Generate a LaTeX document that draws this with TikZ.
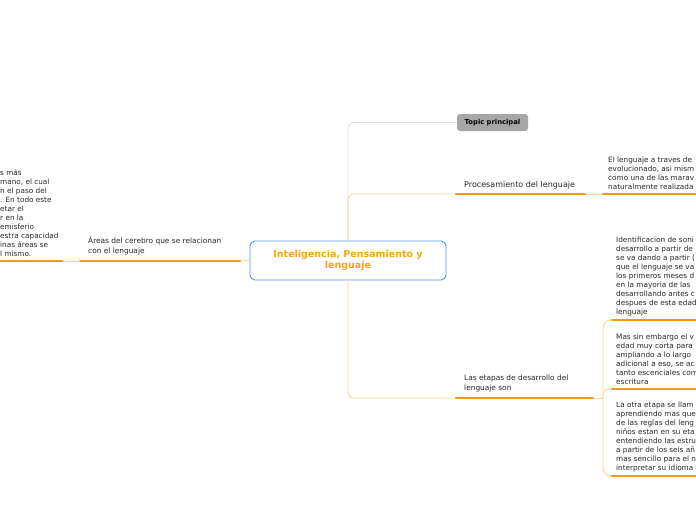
\documentclass[tikz,border=0pt]{standalone}
\usepackage{fontspec}
\setmainfont{DejaVu Sans}
\definecolor{orng}{RGB}{246,152,12}
\definecolor{lorng}{RGB}{252,214,150}
\definecolor{lgray}{RGB}{222,222,222}
\definecolor{bblue}{RGB}{80,148,232}
\definecolor{ttext}{RGB}{40,40,40}
\definecolor{ctext}{RGB}{248,166,10}
\tikzset{
  uline/.style={draw=orng,line width=2.6pt,line cap=round},
  thin/.style={draw=lorng,line width=0.9pt},
  grayline/.style={draw=lgray,line width=0.9pt},
  body/.style={inner sep=0pt,align=left,text=ttext,font=\fontsize{7.3}{9.0}\selectfont},
  label/.style={inner sep=0pt,align=left,text=ttext,font=\fontsize{7.4}{9.6}\selectfont},
}
\begin{document}
\begin{tikzpicture}[x=1pt,y=-1pt]
\useasboundingbox (0,0) rectangle (696,520);
\clip (0,0) rectangle (696,520);
\fill[white] (0,0) rectangle (696,520);

% central node
\node[draw=bblue,line width=0.9pt,fill=white,rounded corners=5pt,minimum width=196pt,minimum height=39pt,
  align=center,text=ctext,font=\fontsize{9.5}{10.5}\selectfont\bfseries,inner sep=0pt] (center) at (348,260.5)
  {Inteligencia, Pensamiento y\\lenguaje};

% topic principal
\node[fill=black!35,rounded corners=3pt,minimum width=71pt,minimum height=17pt,inner sep=0pt,
  font=\fontsize{6.8}{8}\selectfont\bfseries,text=black] (topic) at (492.5,122.5) {Topic principal};

% connectors from center
\coordinate (ctop) at (348,241);
\coordinate (cbot) at (348,280);
\draw[grayline,rounded corners=6pt] (ctop) |- (topic.west);
\coordinate (procL) at (456,194);
\coordinate (procR) at (585,194);
\coordinate (etapL) at (456,398);
\coordinate (etapR) at (593,398);
\draw[thin,rounded corners=6pt] (ctop) |- (procL);
\draw[thin,rounded corners=6pt] (cbot) |- (etapL);

% Procesamiento branch
\draw[uline] (procL) -- (procR);
\node[inner sep=0pt,anchor=base west,text=ttext,font=\fontsize{8}{9}\selectfont] (proc) at (464,187) {Procesamiento del lenguaje};
\coordinate (p1L) at (603,194);
\coordinate (p1R) at (705,194);
\draw[thin] (procR) -- (p1L);
\draw[uline] (p1L) -- (p1R);
\node[body,anchor=south west] (p1) at (608,190) {El lenguaje a traves de\\evolucionado, asi mism\\como una de las marav\\naturalmente realizada};

% Etapas branch
\draw[uline] (etapL) -- (etapR);
\node[label,anchor=south west] (etap) at (464,392) {Las etapas de desarrollo del\\lenguaje son};
\coordinate (bk) at (603,398);
\coordinate (e1L) at (612,320);
\coordinate (e2L) at (612,389);
\coordinate (e3L) at (612,476);
\draw[thin] (etapR) -- (bk);
\draw[thin,rounded corners=8pt] (bk) |- (e1L);
\draw[thin,rounded corners=6pt] (bk) |- (e2L);
\draw[thin,rounded corners=8pt] (bk) |- (e3L);
\draw[uline] (e1L) -- (705,320);
\draw[uline] (e2L) -- (705,389);
\draw[uline] (e3L) -- (705,476);
\node[body,anchor=south west] (e1) at (616,316) {Identificacion de soni\\desarrollo a partir de\\se va dando a partir (\\que el lenguaje se va\\los primeros meses d\\en la mayoria de las\\desarrollando antes c\\despues de esta edad\\lenguaje};
\node[body,anchor=south west] (e2) at (616,385) {Mas sin embargo el v\\edad muy corta para\\ampliando a lo largo\\adicional a eso, se ac\\tanto escenciales com\\escritura};
\node[body,anchor=south west] (e3) at (616,472) {La otra etapa se llam\\aprendiendo mas que\\de las reglas del leng\\niños estan en su eta\\entendiendo las estru\\a partir de los seis añ\\mas sencillo para el n\\interpretar su idioma};

% Left branch
\coordinate (aL) at (80,261);
\coordinate (aR) at (240,261);
\draw[thin] (center.west) -- (aR);
\draw[uline] (aL) -- (aR);
\node[label,anchor=south west] (areas) at (88,255) {Áreas del cerebro que se relacionan\\con el lenguaje};
\coordinate (l1L) at (-10,261);
\coordinate (l1R) at (62,261);
\draw[thin] (l1R) -- (aL);
\draw[uline] (l1L) -- (l1R);
\node[body,anchor=south west] (l1) at (0,257) {s más\\mano, el cual\\n el paso del\\. En todo este\\etar el\\r en la\\emisferio\\estra capacidad\\inas áreas se\\l mismo.};
\end{tikzpicture}
\end{document}
